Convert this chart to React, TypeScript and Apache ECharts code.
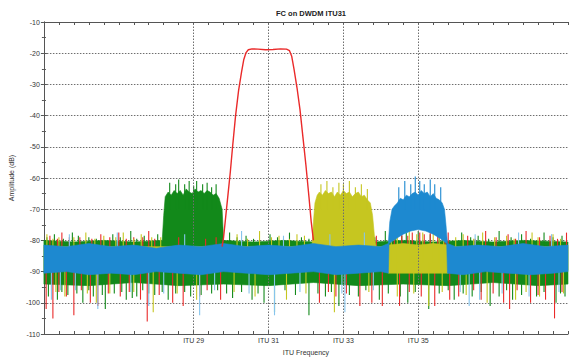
import React, { useEffect, useRef } from 'react';
import * as echarts from 'echarts';

// ---------- axes ----------
const xMin = 0;
const xMax = 35;
const xLabelValues = [10, 15, 20, 25];
const xLabelTexts = ['ITU 29', 'ITU 31', 'ITU 33', 'ITU 35'];
const yMin = -110;
const yMax = -10;

// ---------- red filter trace (ITU 31) ----------
const redFilter = [
  [11.9, -82], [12.0, -79], [12.15, -72], [12.3, -65], [12.45, -58], [12.6, -50], [12.8, -40],
  [13.0, -32], [13.2, -26], [13.35, -22], [13.5, -19.8], [13.65, -18.9], [13.9, -18.6],
  [14.3, -18.7], [14.8, -18.9], [15.3, -18.8], [15.8, -18.6], [16.2, -18.7], [16.4, -19.2],
  [16.55, -21], [16.7, -25], [16.9, -31], [17.1, -38], [17.3, -47], [17.5, -56], [17.7, -66],
  [17.85, -74], [18.0, -80],
];

// ---------- green trace (signal at ITU 29) ----------
const greenTop = [
  [0, -80], [2, -80.5], [4, -80], [6, -80.5], [7.9, -80], [8.0, -72], [8.1, -66], [8.3, -64.5],
  [8.5, -65.5], [8.7, -64], [8.9, -65], [9.1, -64], [9.3, -65.5], [9.5, -63.5], [9.7, -64.5],
  [9.9, -65], [10.1, -63.5], [10.3, -64.5], [10.5, -64], [10.7, -65], [10.9, -64], [11.1, -64.5],
  [11.3, -65.5], [11.5, -65], [11.7, -66.5], [11.9, -70], [12.0, -80], [14, -80.5], [16, -80],
  [18, -80.5], [20, -80], [22, -80.5], [24, -80], [26, -80.5], [28, -80], [30, -80.5], [32, -80],
  [35, -80.5],
];
const greenBottom = [
  [0, -94], [3, -94.5], [6, -93.5], [9, -94.5], [12, -94], [15, -94.5], [18, -93.5], [21, -94.5],
  [24, -94], [27, -94.5], [30, -93.5], [33, -94.5], [35, -94],
];
const greenSignalSpikes = [
  [8.4, -61.5], [8.8, -62], [9.0, -60.5], [9.4, -62], [9.7, -61], [10.0, -62.5], [10.2, -61],
  [10.6, -62], [10.9, -61.5], [11.2, -63], [11.5, -62],
];
const greenDown = [
  [0.3, -98], [0.9, -99], [1.6, -97.5], [2.6, -100], [3.3, -98], [4.1, -102], [4.7, -97],
  [5.5, -99], [6.2, -98], [7.4, -97.5], [8.3, -99], [9.8, -98], [11.2, -97], [12.6, -98.5],
  [13.9, -99], [14.7, -100], [15.4, -103], [16.8, -97.5], [17.7, -104], [18.8, -98], [19.7, -101],
  [21.0, -98], [22.4, -99], [24.3, -100], [25.7, -102], [27.4, -99], [28.6, -98], [29.8, -101],
  [31.3, -99], [32.9, -98], [34.2, -100], [34.8, -98],
  [1.2, -96.5], [2.2, -97], [3.0, -96], [3.9, -97.5], [5.2, -96.5], [5.9, -98.5], [6.6, -96],
  [7.0, -97], [7.9, -96.5], [8.8, -97], [9.4, -96.5], [10.5, -97.5], [11.6, -96], [12.2, -97],
  [13.2, -96.5], [14.3, -97], [16.1, -96], [18.3, -97], [19.2, -96.5], [20.4, -97.5], [21.5, -96],
  [23.0, -97], [23.8, -98], [24.8, -96.5], [26.4, -97], [27.0, -96], [28.0, -97], [29.2, -96.5],
  [30.4, -98], [30.9, -96], [31.9, -97.5], [33.4, -96.5], [34.5, -97],
];
const greenUp = [
  [0.7, -78], [1.9, -77.5], [3.0, -79], [4.6, -78], [5.8, -77], [6.7, -78.5], [7.6, -78],
  [12.4, -77.5], [13.5, -78.5], [15.1, -78], [16.4, -77.5], [17.2, -79], [18.9, -78], [22.8, -77],
  [23.9, -78.5], [26.4, -78], [27.9, -77.5], [29.0, -78.5], [30.4, -77], [31.9, -78], [33.4, -77.5],
  [34.6, -78.5],
  [0.2, -79], [1.3, -79.5], [2.3, -78.5], [3.5, -79.5], [5.1, -79], [6.2, -79.5], [12.9, -79],
  [14.0, -79.5], [15.6, -79], [17.7, -79.5], [19.5, -79], [20.3, -78], [21.2, -79.5], [22.1, -79],
  [23.5, -78], [24.2, -77.5], [25.0, -77], [25.8, -78], [26.6, -78.5], [28.5, -79], [29.7, -79.5],
  [31.2, -79], [32.5, -79.5], [34.0, -79],
];

// ---------- red noise ----------
const redDown = [
  [0.15, -102], [0.6, -105], [2.0, -104], [3.1, -100], [3.6, -101], [5.1, -98], [6.45, -99],
  [6.9, -106], [8.6, -100], [9.3, -101], [10.4, -98], [11.8, -99], [18.4, -100], [19.5, -98],
  [21.1, -101], [21.9, -100], [22.6, -101], [23.75, -101], [26.1, -101], [27.1, -99], [27.7, -98],
  [29.2, -99], [30.7, -100], [31.1, -102], [32.5, -100], [33.5, -99], [34.1, -105],
  [1.0, -96.5], [1.5, -98], [2.5, -96], [4.3, -97], [5.7, -96.5], [7.7, -97.5], [10.9, -96],
  [19.0, -96.5], [20.2, -97], [24.4, -96.5], [25.2, -98], [28.7, -96], [30.0, -97], [31.6, -96],
  [33.0, -97.5], [34.6, -96.5],
];
const redUp = [
  [0.4, -78.5], [1.2, -77.5], [2.4, -79], [3.8, -78], [5.0, -77.5], [6.0, -79], [7.0, -77],
  [9.0, -79], [10.8, -79.5], [11.5, -79], [18.6, -78], [20.6, -77], [22.2, -78.5], [24.6, -77.5],
  [25.4, -78], [27.0, -77.5], [28.3, -78.5], [29.5, -77], [31.0, -78], [32.2, -77], [33.8, -78.5],
  [34.9, -77.5],
  [0.9, -79.5], [1.7, -79], [3.2, -79.5], [4.4, -79], [5.5, -79.5], [6.6, -79], [7.4, -79.5],
  [19.3, -79.5], [21.0, -79], [23.4, -78], [23.9, -77.5], [24.3, -78.5], [25.1, -77.5],
  [25.8, -77], [26.3, -78], [26.8, -78.5], [28.8, -79.5], [30.2, -79], [31.5, -79.5], [33.1, -79],
  [34.3, -79.5],
];

// ---------- yellow trace (signal at ITU 33) ----------
const yellowTop = [
  [0, -82], [17.9, -82], [18.0, -74], [18.1, -68], [18.25, -65.5], [18.4, -64.5], [18.6, -65.5],
  [18.8, -64], [19.0, -65], [19.2, -64.5], [19.4, -66], [19.6, -64.5], [19.8, -65.5], [20.0, -64],
  [20.2, -65], [20.4, -64.5], [20.6, -66], [20.8, -65], [21.0, -64.5], [21.2, -66], [21.4, -65.5],
  [21.6, -67], [21.8, -68], [21.95, -72], [22.1, -80], [22.2, -82], [22.9, -82], [23.0, -81.5],
  [24.0, -81], [25.0, -81.5], [26.0, -81], [27.0, -81.5], [27.1, -82], [35, -82],
];
const yellowBottom = [
  [0, -89.5], [22.9, -89.5], [23.0, -90.5], [27.0, -90.5], [27.1, -89.5], [35, -89.5],
];
const yellowSignalSpikes = [
  [18.5, -62], [18.9, -61], [19.3, -63], [19.7, -61.5], [20.0, -62], [20.4, -61], [20.8, -63],
  [21.2, -62], [21.6, -63.5],
];
const yellowDown = [
  [1.4, -98], [3.5, -100], [4.4, -97], [7.3, -103], [10.2, -99], [14.1, -98], [16.2, -99],
  [19.4, -103], [23.6, -98], [25.7, -101], [29.6, -100], [31.5, -99], [33.1, -98],
  [0.8, -96.5], [2.9, -97], [6.0, -96.5], [8.9, -97], [12.7, -96.5], [17.5, -97], [21.7, -96.5],
  [24.7, -97], [26.6, -96.5], [28.2, -97.5], [32.2, -96.5], [34.7, -97],
];
const yellowUp = [
  [0.2, -78], [1.0, -79], [2.8, -77.5], [4.0, -78.5], [5.3, -77.5], [6.5, -78], [7.8, -79],
  [12.9, -78], [14.4, -77], [15.7, -78.5], [16.9, -78], [23.2, -77.5], [24.9, -78], [26.7, -77],
  [28.0, -78], [29.3, -77.5], [30.9, -78.5], [32.6, -77.5], [34.0, -78],
  [0.6, -79.5], [2.0, -79], [3.4, -79.5], [4.8, -79], [6.0, -79.5], [7.2, -79], [13.6, -79.5],
  [15.2, -79], [16.4, -79.5], [17.4, -78.5], [23.6, -78], [24.4, -77], [25.3, -77.5], [26.0, -77.5],
  [26.4, -78], [27.5, -79], [28.7, -79.5], [30.1, -79], [31.4, -79.5], [33.0, -79], [34.5, -79.5],
];

// ---------- blue trace (signal at ITU 35) ----------
const blueTop = [
  [0, -81.5], [1.5, -82], [3, -81], [4.5, -82], [6, -81.5], [7.5, -82.5], [9, -81.5], [10.5, -82],
  [12, -81], [13.5, -82], [15, -81.5], [16.5, -82], [18, -81], [19.5, -82], [21, -81.5], [22.5, -82],
  [23.0, -81], [23.1, -74], [23.25, -70], [23.4, -69], [23.6, -68], [23.8, -66.5], [24.0, -67],
  [24.2, -65.5], [24.4, -66], [24.6, -65], [24.8, -64.5], [25.0, -65.5], [25.2, -64], [25.4, -65],
  [25.6, -64.5], [25.8, -66], [26.0, -65], [26.2, -66.5], [26.4, -67], [26.6, -68], [26.75, -70],
  [26.85, -75], [26.95, -81], [27.5, -82], [29, -81.5], [30.5, -82], [32, -81], [33.5, -82],
  [35, -81.5],
];
const blueBottom = [
  [0, -90.5], [1.5, -90], [3, -91], [4.5, -90.5], [6, -91], [7.5, -90], [9, -90.5], [10.5, -91],
  [12, -90], [13.5, -90.5], [15, -91], [16.5, -90.5], [18, -90], [19.5, -91], [21, -90.5],
  [22.5, -90], [23.0, -90.5], [23.05, -81], [23.5, -79.5], [24.0, -78], [24.5, -77], [25.0, -76.5],
  [25.5, -77], [26.0, -78], [26.5, -79.5], [26.9, -81], [26.95, -90.5], [28, -91], [29.5, -90],
  [31, -90.5], [32.5, -91], [34, -90.5], [35, -90],
];
const blueSignalSpikes = [
  [23.7, -63], [24.1, -61], [24.5, -62], [24.8, -59.5], [25.1, -61], [25.4, -62], [25.8, -60.5],
  [26.1, -62], [26.5, -63],
];
const blueDown = [
  [0.5, -99], [2.1, -96], [3.6, -102], [7.0, -101], [10.4, -104], [13.7, -97], [15.4, -104],
  [20.1, -103], [28.4, -101], [29.1, -99], [32.4, -98],
  [1.1, -96], [5.8, -96.5], [8.0, -97], [11.4, -96], [17.1, -96.5], [19.9, -97], [22.0, -96],
  [27.8, -96.5], [30.6, -97], [34.4, -96.5],
];
const blueUp = [
  [1.7, -78], [4.9, -77.5], [9.4, -78], [13.2, -77], [16.0, -78.5], [19.1, -78], [21.4, -77.5],
  [28.8, -78], [31.7, -77.5], [33.9, -78],
];

// ---------- colours ----------
const C_GREEN = '#12891a';
const C_RED = '#ea2a2a';
const C_YELLOW = '#c6c620';
const C_BLUE = '#1d89d0';
const C_LIGHTBLUE = '#86c4ec';
const FONT = 'Liberation Sans, Arial, sans-serif';

function band(top: number[][], bottom: number[][], color: string, z: number) {
  return {
    type: 'custom',
    silent: true,
    z,
    clip: true,
    data: [[top[0][0], top[0][1]]],
    encode: { x: 0, y: 1 },
    renderItem: (_p: any, api: any) => {
      const pts = top.concat(bottom.slice().reverse()).map((p) => api.coord(p));
      return {
        type: 'polygon',
        shape: { points: pts },
        style: { fill: color, stroke: color, lineWidth: 0.6 },
      };
    },
  };
}

function spikes(data: number[][], base: number, color: string, z: number, width = 1.1) {
  return {
    type: 'custom',
    silent: true,
    z,
    clip: true,
    data,
    encode: { x: 0, y: 1 },
    renderItem: (_p: any, api: any) => {
      const x = api.value(0);
      const y = api.value(1);
      const a = api.coord([x, base]);
      const b = api.coord([x, y]);
      return {
        type: 'line',
        shape: { x1: a[0], y1: a[1], x2: b[0], y2: b[1] },
        style: { stroke: color, lineWidth: width },
      };
    },
  };
}

const gridLine = { color: '#6e6e6e', type: [1.5, 1.5] as any, width: 1 };

const option: any = {
  animation: false,
  backgroundColor: '#fff',
  title: {
    text: 'FC on DWDM ITU31',
    left: 306,
    top: 4,
    textAlign: 'center',
    textStyle: { fontSize: 7.5, fontWeight: 'bold', color: '#222', fontFamily: FONT },
  },
  grid: { left: 43, right: 9, top: 22, bottom: 27 },
  xAxis: [
    {
      type: 'value',
      min: xMin,
      max: xMax,
      interval: 1,
      position: 'bottom',
      name: 'ITU Frequency',
      nameLocation: 'middle',
      nameGap: 11,
      nameTextStyle: { fontSize: 7, color: '#333', fontFamily: FONT },
      axisLine: { show: true, lineStyle: { color: '#555', width: 1 } },
      axisTick: { show: true, inside: true, length: 3, lineStyle: { color: '#555' } },
      axisLabel: {
        margin: 3,
        fontSize: 7,
        color: '#333',
        fontFamily: FONT,
        formatter: (v: number) => {
          const i = xLabelValues.indexOf(v);
          return i >= 0 ? xLabelTexts[i] : '';
        },
      },
      splitLine: { show: false },
    },
    {
      type: 'value',
      min: xMin,
      max: xMax,
      interval: 1,
      position: 'top',
      axisLine: { show: true, lineStyle: { color: '#555', width: 1 } },
      axisTick: { show: true, inside: true, length: 3, lineStyle: { color: '#555' } },
      axisLabel: { show: false },
      splitLine: { show: false },
    },
  ],
  yAxis: [
    {
      type: 'value',
      min: yMin,
      max: yMax,
      interval: 10,
      position: 'left',
      name: 'Amplitude (dB)',
      nameLocation: 'middle',
      nameGap: 23,
      nameRotate: 90,
      nameTextStyle: { fontSize: 7, color: '#333', fontFamily: FONT },
      axisLine: { show: true, lineStyle: { color: '#555', width: 1 } },
      axisTick: { show: true, inside: true, length: 3, lineStyle: { color: '#555' } },
      minorTick: { show: true, splitNumber: 2, length: 2, lineStyle: { color: '#555' } },
      axisLabel: { margin: 4, fontSize: 7, color: '#333', fontFamily: FONT },
      splitLine: { show: true, lineStyle: gridLine },
    },
    {
      type: 'value',
      min: yMin,
      max: yMax,
      interval: 10,
      position: 'right',
      axisLine: { show: true, lineStyle: { color: '#555', width: 1 } },
      axisTick: { show: true, inside: true, length: 3, lineStyle: { color: '#555' } },
      minorTick: { show: true, splitNumber: 2, length: 2, lineStyle: { color: '#555' } },
      axisLabel: { show: false },
      splitLine: { show: false },
    },
  ],
  series: [
    {
      type: 'line',
      data: [],
      z: 0,
      silent: true,
      markLine: {
        silent: true,
        symbol: 'none',
        label: { show: false },
        lineStyle: gridLine,
        data: xLabelValues.map((v) => ({ xAxis: v })),
      },
    },
    band(greenTop, greenBottom, C_GREEN, 1),
    spikes(greenSignalSpikes, -70, C_GREEN, 2),
    spikes(greenDown, -87, C_GREEN, 2),
    spikes(greenUp, -87, C_GREEN, 2),
    spikes(redDown, -87, C_RED, 3),
    spikes(redUp, -87, C_RED, 3),
    band(yellowTop, yellowBottom, C_YELLOW, 4),
    spikes(yellowSignalSpikes, -70, C_YELLOW, 4),
    spikes(yellowDown, -87, C_YELLOW, 4),
    spikes(yellowUp, -87, C_YELLOW, 4),
    spikes(blueDown, -87, C_LIGHTBLUE, 5),
    spikes(blueUp, -87, C_LIGHTBLUE, 5),
    band(blueTop, blueBottom, C_BLUE, 6),
    spikes(blueSignalSpikes, -70, C_BLUE, 6),
    {
      type: 'line',
      data: redFilter,
      z: 7,
      silent: true,
      showSymbol: false,
      symbol: 'none',
      lineStyle: { color: C_RED, width: 1.4 },
    },
  ],
};

export default function App() {
  const ref = useRef<HTMLDivElement>(null);
  useEffect(() => {
    const chart = echarts.init(ref.current as HTMLDivElement, null, { renderer: 'svg' });
    chart.setOption(option);
    return () => chart.dispose();
  }, []);
  return (
    <div
      ref={ref}
      style={{ position: 'fixed', left: 0, top: 0, width: 577, height: 361, background: '#fff' }}
    />
  );
}
